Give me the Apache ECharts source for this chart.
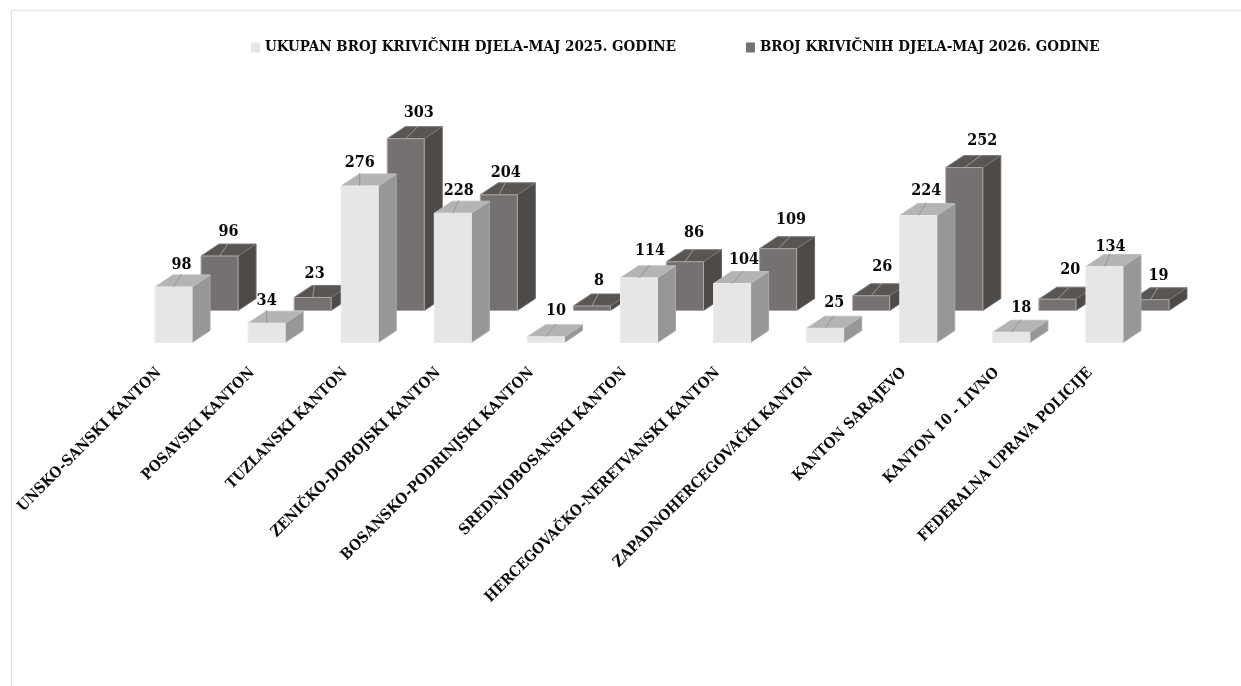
<!DOCTYPE html>
<html>
<head>
<meta charset="utf-8">
<style>html,body{margin:0;padding:0;background:#fff}#c{width:1241px;height:686px}</style>
<script src="https://cdn.jsdelivr.net/npm/echarts@6/dist/echarts.min.js"></script>
</head>
<body>
<div id="c"></div>
<script>
const categories = ['UNSKO-SANSKI KANTON','POSAVSKI KANTON','TUZLANSKI KANTON','ZENIČKO-DOBOJSKI KANTON','BOSANSKO-PODRINJSKI KANTON','SREDNJOBOSANSKI KANTON','HERCEGOVAČKO-NERETVANSKI KANTON','ZAPADNOHERCEGOVAČKI KANTON','KANTON SARAJEVO','KANTON 10 - LIVNO','FEDERALNA UPRAVA POLICIJE'];
const values2025 = [98,34,276,228,10,114,104,25,224,18,134];
const values2026 = [96,23,303,204,8,86,109,26,252,20,19];
const name2025 = 'UKUPAN BROJ KRIVIČNIH DJELA-MAJ 2025. GODINE';
const name2026 = 'BROJ KRIVIČNIH DJELA-MAJ 2026. GODINE';

// label placement nudges (px), a styling matter, not data
const shift2025 = [8,0,0,6,10,11,12,9,8,10,6];
const shift2026 = [9,2,13,7,7,9,13,11,18,13,8];
const lift2025 = [-3,-3,-2,-3,1,2,-1,0,0,-1,-5];
const lift2026 = [-1,-1,1,-3,0,4,4,4,2,4,-1];

const FONT = '"DejaVu Serif Condensed","DejaVu Serif","Liberation Serif",serif';
const BAR_W = 37, SIDE_X = 18, SIDE_Y = 12;

function bar3d(colors, shift, lift, dx, dy) {
  return function (params, api) {
    const i = api.value(0), v = api.value(1);
    const base = api.coord([i, 0]), top = api.coord([i, v]);
    const x0 = base[0] - BAR_W / 2 + dx, x1 = x0 + BAR_W;
    const yb = base[1] + dy, yt = top[1] + dy;
    const cx = (x0 + x1) / 2, s = shift[params.dataIndex], l = lift[params.dataIndex];
    const poly = (pts, fill, stroke) => ({type:'polygon', shape:{points:pts}, style:{fill, stroke:stroke||fill, lineWidth:1}});
    return {type:'group', children:[
      poly([[x1,yb],[x1+SIDE_X,yb-SIDE_Y],[x1+SIDE_X,yt-SIDE_Y],[x1,yt]], colors.side, colors.edgeSide),
      poly([[x0,yt],[x0+SIDE_X,yt-SIDE_Y],[x1+SIDE_X,yt-SIDE_Y],[x1,yt]], colors.top, colors.edgeTop),
      poly([[x0,yb],[x1,yb],[x1,yt],[x0,yt]], colors.front, colors.edge),
      {type:'line', shape:{x1:cx,y1:yt,x2:cx+s,y2:yt-13}, style:{stroke:colors.leader, lineWidth:0.8}},
      {type:'text', style:{x:cx+s, y:yt-25-l, text:String(v), align:'center', verticalAlign:'middle',
        font:'bold 16px '+FONT, fill:'#0a0a0a'}}
    ]};
  };
}
const lightC = {front:'#e6e6e6', side:'#979797', top:'#b4b4b4', edge:'#eaeaea', edgeSide:'#a8a8a8', edgeTop:'#bdbdbd', leader:'#8c8c8c'};
const darkC = {front:'#757171', side:'#4e4a48', top:'#595552', edge:'#aaa8a7', edgeSide:'#6a6765', edgeTop:'#7a7776', leader:'#b0b0b0'};

const chart = echarts.init(document.getElementById('c'), null, {renderer:'canvas'});
chart.setOption({
  animation:false,
  backgroundColor:'#ffffff',
  graphic:[
    {type:'line', shape:{x1:11.5,y1:10.5,x2:1241,y2:10.5}, style:{stroke:'#e6e6e6',lineWidth:1.5}},
    {type:'line', shape:{x1:11.5,y1:10.5,x2:11.5,y2:686}, style:{stroke:'#e0e0e0',lineWidth:1.2}}
  ],
  legend:{
    left:246, top:35, itemWidth:9, itemHeight:10, itemGap:70, icon:'rect',
    data:[name2025,name2026],
    textStyle:{fontFamily:FONT, fontWeight:'bold', fontSize:15, color:'#0a0a0a'}
  },
  grid:{left:127, width:1024, top:144, height:198.5},
  xAxis:{type:'category', data:categories,
    axisLine:{show:false}, axisTick:{show:false},
    axisLabel:{interval:0, rotate:45, margin:24, align:'right', verticalAlign:'bottom', padding:[0,13,0,0],
      fontFamily:FONT, fontWeight:'bold', fontSize:15, color:'#0a0a0a'}},
  yAxis:{type:'value', min:0, max:350, show:false, splitLine:{show:false}},
  series:[
    {name:name2026, type:'custom', z:2, itemStyle:{color:darkC.front}, renderItem:bar3d(darkC, shift2026, lift2026, 46, -32),
     encode:{x:0,y:1}, data:values2026.map((v,i)=>[i,v]), clip:false},
    {name:name2025, type:'custom', z:3, itemStyle:{color:lightC.front}, renderItem:bar3d(lightC, shift2025, lift2025, 0, 0),
     encode:{x:0,y:1}, data:values2025.map((v,i)=>[i,v]), clip:false}
  ]
});
</script>
</body>
</html>
